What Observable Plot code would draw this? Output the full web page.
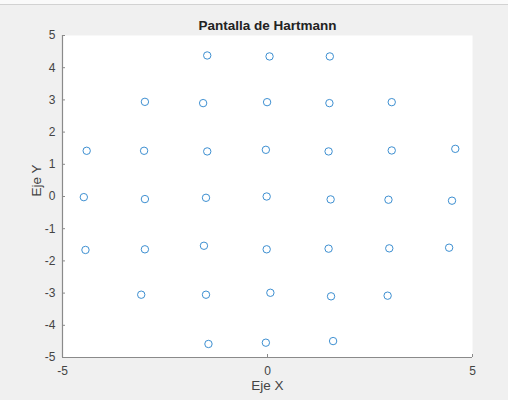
<!DOCTYPE html>
<html>
<head>
<meta charset="utf-8">
<script src="https://cdn.jsdelivr.net/npm/d3@7"></script>
<script src="https://cdn.jsdelivr.net/npm/@observablehq/plot@0.6"></script>
<style>
  html, body { margin: 0; padding: 0; background: #f0f0f0; }
  #wrap { position: relative; width: 508px; height: 400px; overflow: hidden; }
  #topline { position: absolute; left: 0; top: 0; width: 508px; height: 4px; background: #fafafa; border-bottom: 1px solid #d2d2d2; }
  svg { display: block; }
</style>
</head>
<body>
<div id="wrap"><div id="topline"></div></div>
<script>
const title = "Pantalla de Hartmann";
const xLabel = "Eje X";
const yLabel = "Eje Y";
const xTicks = [-5, 0, 5];
const yTicks = [-5, -4, -3, -2, -1, 0, 1, 2, 3, 4, 5];

const xs = [
  -1.47, 0.05, 1.52,
  -2.99, -1.57, -0.01, 1.51, 3.03,
  -4.41, -3.01, -1.47, -0.04, 1.49, 3.03, 4.58,
  -4.48, -2.99, -1.50, -0.02, 1.54, 2.95, 4.50,
  -4.44, -2.99, -1.55, -0.02, 1.49, 2.97, 4.43,
  -3.08, -1.50, 0.07, 1.55, 2.93,
  -1.44, -0.04, 1.60
];
const ys = [
  4.38, 4.35, 4.35,
  2.94, 2.90, 2.93, 2.90, 2.93,
  1.42, 1.42, 1.40, 1.45, 1.40, 1.43, 1.48,
  -0.02, -0.08, -0.04, 0.00, -0.09, -0.10, -0.13,
  -1.66, -1.64, -1.53, -1.64, -1.62, -1.61, -1.59,
  -3.05, -3.05, -2.99, -3.10, -3.08,
  -4.58, -4.54, -4.49
];

const pts = xs.map((x, i) => ({x, y: ys[i]}));
const axisColor = "#8a8a8a";
const textColor = "#444";

const chart = Plot.plot({
  width: 508,
  height: 400,
  marginLeft: 62,
  marginRight: 36,
  marginTop: 35,
  marginBottom: 43,
  style: {background: "transparent", fontFamily: "'Liberation Sans', Arial, sans-serif", fontSize: "12px", color: textColor},
  x: {domain: [-5, 5]},
  y: {domain: [-5, 5]},
  marks: [
    Plot.frame({fill: "white", stroke: null}),
    Plot.axisX({ticks: xTicks, tickFormat: d => String(d).replace("−", "-"), tickSize: -3, tickPadding: 12, label: null, stroke: axisColor, fill: textColor, fontSize: 12}),
    Plot.axisY({ticks: yTicks, tickFormat: d => String(d).replace("−", "-"), tickSize: -3, tickPadding: 10, label: null, stroke: axisColor, fill: textColor, fontSize: 12}),
    Plot.ruleX([-5], {stroke: axisColor, strokeWidth: 1.2}),
    Plot.ruleY([-5], {stroke: axisColor, strokeWidth: 1.2}),
    Plot.dot(pts, {x: "x", y: "y", r: 3.7, stroke: "#3d8fd1", strokeWidth: 1, fill: "none"}),
    Plot.text([title], {frameAnchor: "top", lineAnchor: "middle", dy: -10, fontWeight: "bold", fontSize: 13.5, fill: "#222"}),
    Plot.text([xLabel], {frameAnchor: "bottom", lineAnchor: "middle", dy: 28, fontSize: 13.5, fill: textColor}),
    Plot.text([yLabel], {frameAnchor: "left", lineAnchor: "middle", dx: -26, rotate: -90, fontSize: 13.5, fill: textColor})
  ]
});
document.getElementById("wrap").appendChild(chart);
</script>
</body>
</html>
